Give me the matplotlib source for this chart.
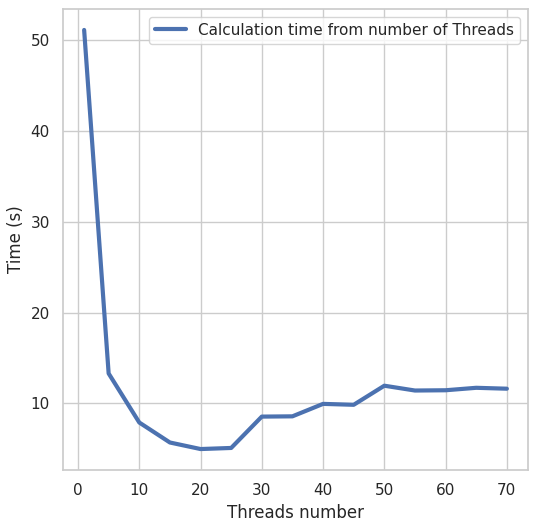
import matplotlib

matplotlib.use('Agg')

import matplotlib.pyplot as plt
import seaborn as sns

threads = [1, 5, 10, 15, 20, 25, 30, 35, 40, 45, 50, 55, 60, 65, 70]
times = [51.1, 13.3, 7.9, 5.7, 4.98, 5.1, 8.55, 8.58, 9.95, 9.85,
         11.95, 11.42, 11.45, 11.72, 11.62]

sns.set_theme(style='whitegrid')

fig = plt.figure(figsize=(5.38, 5.30), dpi=100)
ax = fig.add_axes([63 / 538, 60 / 530, 465 / 538, 461 / 530])
ax.plot(threads, times, linewidth=3, color='#4c72b0',
        label='Calculation time from number of Threads')
ax.set_xlabel('Threads number')
ax.set_ylabel('Time (s)')
ax.legend(loc='upper right')
fig.savefig('out.png', dpi=100)
